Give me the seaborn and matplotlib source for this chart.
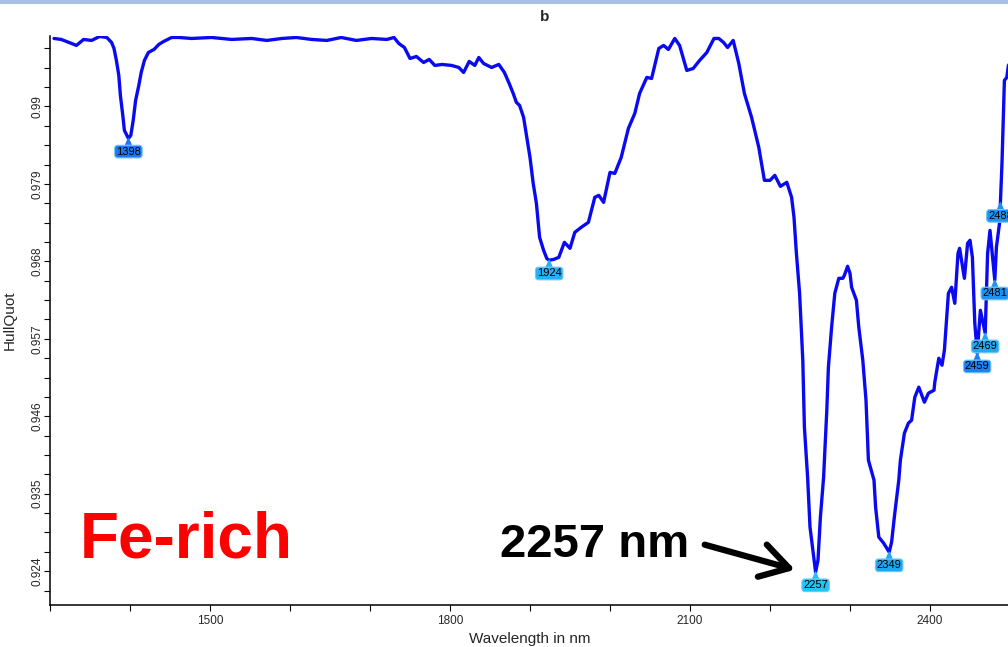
import numpy as np
import pandas as pd
import matplotlib
matplotlib.use("Agg")
import matplotlib.pyplot as plt
from matplotlib.patches import Rectangle
from matplotlib.ticker import FixedLocator, MultipleLocator
import seaborn as sns

# hull quotient spectrum
wavelength = [
    1305, 1314, 1327, 1333, 1342, 1352, 1362, 1371, 1377, 1380, 1383, 1386, 1388,
    1391, 1393, 1398, 1401, 1404, 1407, 1411, 1414, 1418, 1423, 1430, 1436, 1442,
    1452, 1461, 1477, 1502, 1527, 1552, 1571, 1590, 1608, 1627, 1646, 1664, 1683,
    1702, 1721, 1730, 1736, 1743, 1750, 1758, 1767, 1774, 1781, 1790, 1802, 1811,
    1817, 1824, 1831, 1836, 1842, 1852, 1861, 1868, 1874, 1879, 1883, 1887, 1892,
    1896, 1900, 1904, 1908, 1912, 1917, 1921, 1924, 1930, 1936, 1943, 1950, 1956,
    1964, 1973, 1981, 1986, 1992, 2000, 2006, 2014, 2023, 2031, 2037, 2046, 2052,
    2061, 2067, 2073, 2081, 2087, 2096, 2104, 2112, 2121, 2130, 2136, 2142, 2147,
    2154, 2161, 2168, 2177, 2186, 2193, 2200, 2206, 2213, 2221, 2227, 2230, 2233,
    2237, 2241, 2243, 2247, 2250, 2257, 2260, 2263, 2267, 2271, 2273, 2277, 2281,
    2286, 2291, 2293, 2297, 2300, 2302, 2308, 2311, 2316, 2320, 2323, 2330, 2332,
    2336, 2342, 2349, 2352, 2356, 2361, 2363, 2368, 2373, 2377, 2381, 2386, 2393,
    2398, 2405, 2406, 2411, 2415, 2418, 2423, 2427, 2431, 2435, 2437, 2443, 2447,
    2450, 2453, 2456, 2459, 2463, 2469, 2472, 2475, 2481, 2483, 2487, 2490, 2493,
    2496, 2498, 2502,
]
hull_quot = [
    0.99965, 0.99951, 0.99894, 0.99866, 0.99951, 0.99937, 0.99993, 0.99979, 0.99908,
    0.99823, 0.99653, 0.99440, 0.99156, 0.98872, 0.98659, 0.98546, 0.98588, 0.98801,
    0.99085, 0.99298, 0.99482, 0.99653, 0.99766, 0.99809, 0.99880, 0.99922, 0.99979,
    0.99979, 0.99965, 0.99979, 0.99951, 0.99965, 0.99937, 0.99965, 0.99979, 0.99951,
    0.99937, 0.99979, 0.99937, 0.99965, 0.99951, 0.99979, 0.99894, 0.99837, 0.99681,
    0.99709, 0.99624, 0.99667, 0.99582, 0.99596, 0.99582, 0.99553, 0.99482, 0.99639,
    0.99582, 0.99695, 0.99610, 0.99553, 0.99596, 0.99482, 0.99326, 0.99184, 0.99057,
    0.99014, 0.98844, 0.98560, 0.98276, 0.97907, 0.97624, 0.97141, 0.96957, 0.96840,
    0.96815, 0.96829, 0.96857, 0.97070, 0.96985, 0.97212, 0.97283, 0.97354, 0.97709,
    0.97737, 0.97638, 0.98063, 0.98049, 0.98276, 0.98688, 0.98901, 0.99184, 0.99412,
    0.99397, 0.99823, 0.99866, 0.99809, 0.99965, 0.99866, 0.99511, 0.99539, 0.99653,
    0.99766, 0.99965, 0.99965, 0.99908, 0.99837, 0.99937, 0.99610, 0.99184, 0.98844,
    0.98418, 0.97950, 0.97950, 0.98021, 0.97865, 0.97922, 0.97709, 0.97425, 0.96914,
    0.96346, 0.95396, 0.94445, 0.93735, 0.93026, 0.92387, 0.92558, 0.93168, 0.93735,
    0.94686, 0.95296, 0.95864, 0.96346, 0.96559, 0.96559, 0.96602, 0.96730, 0.96630,
    0.96432, 0.96247, 0.95864, 0.95396, 0.94828, 0.93977, 0.93693, 0.93310, 0.92884,
    0.92799, 0.92671, 0.92813, 0.93225, 0.93693, 0.93977, 0.94360, 0.94502, 0.94544,
    0.94871, 0.95013, 0.94800, 0.94927, 0.94970, 0.95084, 0.95424, 0.95325, 0.95538,
    0.96346, 0.96432, 0.96204, 0.96914, 0.96985, 0.96559, 0.97056, 0.97099, 0.96857,
    0.95921, 0.95495, 0.96105, 0.95779, 0.96914, 0.97240, 0.96531, 0.96999, 0.97350,
    0.98200, 0.99369, 0.99412, 0.99582, 0.99650,
]

# absorption feature labels
peak_nm = [1398, 1924, 2257, 2349, 2459, 2469, 2481, 2488]
peak_colors = ["#1a78f2", "#24b0f2", "#22c4f2", "#1ea8f2",
               "#1a82f2", "#22a8f2", "#1e92f2", "#1e92f2"]

x_ticks = [1500, 1800, 2100, 2400]
y_ticks = [0.924, 0.935, 0.946, 0.957, 0.968, 0.979, 0.99]
y_tick_labels = ["0.924", "0.935", "0.946", "0.957", "0.968", "0.979", "0.99"]

sns.set_style("ticks")
plt.rcParams["font.family"] = ["Liberation Sans", "DejaVu Sans"]

df = pd.DataFrame({"Wavelength": wavelength, "HullQuot": hull_quot})

fig = plt.figure(figsize=(10.08, 6.47), dpi=100)
ax = fig.add_axes([50 / 1008, 42 / 647, 960 / 1008, 569 / 647])

sns.lineplot(data=df, x="Wavelength", y="HullQuot", ax=ax, color="#0a0af0",
             linewidth=2.4, sort=False, estimator=None)

ax.set_xlim(1300, 2500)
ax.set_ylim(0.9192, 1.0)
ax.xaxis.set_major_locator(FixedLocator(x_ticks))
ax.xaxis.set_minor_locator(MultipleLocator(100))
ax.yaxis.set_major_locator(FixedLocator(y_ticks))
ax.set_yticklabels(y_tick_labels)
ax.yaxis.set_minor_locator(MultipleLocator(0.00275))
ax.tick_params(which="both", direction="out", length=4, width=0.8, color="black")
ax.tick_params(axis="both", labelsize=8.5)
ax.tick_params(axis="y", labelrotation=90, pad=0.5)
for lbl in ax.get_yticklabels():
    lbl.set_va("center")
for s in ["left", "bottom"]:
    ax.spines[s].set_linewidth(1.1)
    ax.spines[s].set_color("black")
sns.despine(ax=ax)

ax.set_xlabel("Wavelength in nm", fontsize=11, labelpad=3)
ax.set_ylabel("HullQuot", fontsize=11, labelpad=10.5)

# feature labels under each minimum
for nm, col in zip(peak_nm, peak_colors):
    val = np.interp(nm, wavelength, hull_quot)
    ax.annotate(str(nm), xy=(nm, val), xytext=(0, -9.5), textcoords="offset points",
                ha="center", va="center", fontsize=8, color="black",
                bbox=dict(boxstyle="round,pad=0.12,rounding_size=0.3", fc=col,
                          ec="#6cc8ff", lw=0.8),
                arrowprops=dict(arrowstyle="wedge,tail_width=0.5", fc=col, ec=col,
                                shrinkA=0, shrinkB=0),
                annotation_clip=False)

ax.text(0.031, 0.083, "Fe-rich", transform=ax.transAxes, color="red",
        fontsize=46, fontweight="bold", ha="left", va="baseline")
ax.text(0.469, 0.084, "2257 nm", transform=ax.transAxes, color="black",
        fontsize=34, fontweight="bold", ha="left", va="baseline")
ax.annotate("", xy=(0.776, 0.062), xytext=(0.682, 0.106),
            xycoords="axes fraction", textcoords="axes fraction",
            arrowprops=dict(arrowstyle="->,head_length=1.0,head_width=0.6",
                            lw=4.5, color="black", mutation_scale=20,
                            shrinkA=0, shrinkB=0))

fig.text(545 / 1008, 1 - 17 / 647, "b", fontsize=11, fontweight="bold",
         ha="center", va="center")
fig.add_artist(Rectangle((0, 1 - 4 / 647), 1, 4 / 647, transform=fig.transFigure,
                         color="#a8c0e4", lw=0))

fig.savefig("out.png", dpi=100)
